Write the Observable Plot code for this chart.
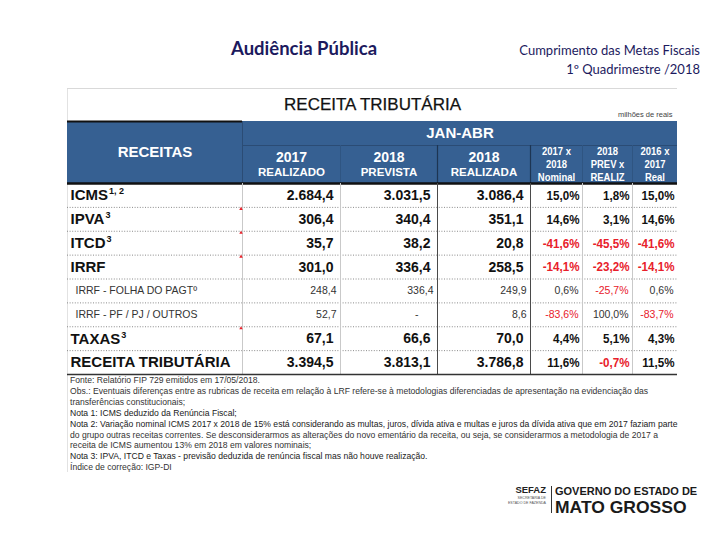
<!DOCTYPE html>
<html lang="pt-BR">
<head>
<meta charset="utf-8">
<script src="https://cdn.jsdelivr.net/npm/d3@7"></script>
<script src="https://cdn.jsdelivr.net/npm/@observablehq/plot@0.6"></script>
<style>
  html, body { margin: 0; padding: 0; background: #fff; }
  #page { position: relative; width: 720px; height: 540px; overflow: hidden; font-family: "Liberation Sans", Arial, sans-serif; }
  #chart { position: absolute; left: 0; top: 0; }
  #ptitle { position: absolute; left: 231px; top: 38px; font: bold 18.5px Lato, "Open Sans", sans-serif; color: #1c1a5e; line-height: 21px; white-space: nowrap; }
  #psub { position: absolute; right: 20px; top: 41px; text-align: right; font: 13px Lato, "Open Sans", sans-serif; color: #1c1a5e; line-height: 19px; white-space: nowrap; }
  #frameLeft { position: absolute; left: 67px; top: 88px; width: 0; height: 384px; border-left: 1px solid #e2e2e2; }
  #notes { position: absolute; left: 70px; top: 375px; font-size: 8.6px; line-height: 10.9px; color: #333; white-space: nowrap; }
  #notes .nota { color: #1a1a1a; }
  #logo { position: absolute; left: 0; top: 0; width: 720px; height: 540px; pointer-events: none; }
  #logo .sefaz { position: absolute; right: 174px; top: 485px; font: bold 9.5px "Liberation Sans", Arial, sans-serif; line-height: 10px; color: #222; }
  #logo .sec { position: absolute; right: 174px; top: 496px; font: 3.6px "Liberation Sans", Arial, sans-serif; color: #555; line-height: 4.6px; text-align: right; }
  #logo .bar { position: absolute; left: 551px; top: 486px; width: 1px; height: 27px; background: #333; }
  #logo .gov { position: absolute; left: 555px; top: 485px; font: bold 11px "Liberation Sans", Arial, sans-serif; line-height: 12.3px; color: #1a1a1a; white-space: nowrap; }
  #logo .mt { position: absolute; left: 555px; top: 497.8px; font: bold 16.5px "Liberation Sans", Arial, sans-serif; line-height: 18.4px; color: #1a1a1a; white-space: nowrap; transform: scaleX(1.06); transform-origin: left center; }
</style>
</head>
<body>
<div id="page">
  <div id="frameLeft"></div>
  <div id="chart"></div>
  <div id="ptitle"></div>
  <div id="psub"></div>
  <div id="notes"></div>
  <div id="logo">
    <div class="sefaz">SEFAZ</div>
    <div class="sec">SECRETARIA DE<br>ESTADO DE FAZENDA</div>
    <div class="bar"></div>
    <div class="gov">GOVERNO DO ESTADO DE</div>
    <div class="mt">MATO GROSSO</div>
  </div>
</div>
<script>
// ---------------- DATA ----------------
const pageTitle = "Audiência Pública";
const pageSubtitle = ["Cumprimento das Metas Fiscais", "1º Quadrimestre /2018"];
const tableTitle = "RECEITA TRIBUTÁRIA";
const unitLabel = "milhões de reais";
const periodLabel = "JAN-ABR";
const firstColumnLabel = "RECEITAS";

const rowLabels = ["ICMS", "IPVA", "ITCD", "IRRF", "IRRF - FOLHA DO PAGTº", "IRRF - PF / PJ / OUTROS", "TAXAS", "RECEITA TRIBUTÁRIA"];
const rowNotes  = ["1, 2", "3", "3", "", "", "", "3", ""];
const rowLevel  = ["main", "main", "main", "main", "sub", "sub", "main", "main"];
const commentRows = [1, 2, 3, 6];

const valueHeadYear  = ["2017", "2018", "2018"];
const valueHeadName  = ["REALIZADO", "PREVISTA", "REALIZADA"];
const ratioHeadLines = [["2017 x", "2018", "Nominal"], ["2018", "PREV x", "REALIZ"], ["2016 x", "2017", "Real"]];

const realizado2017 = [2684.4, 306.4, 35.7, 301.0, 248.4, 52.7, 67.1, 3394.5];
const prevista2018  = [3031.5, 340.4, 38.2, 336.4, 336.4, null, 66.6, 3813.1];
const realizada2018 = [3086.4, 351.1, 20.8, 258.5, 249.9, 8.6, 70.0, 3786.8];
const varNominal    = [15.0, 14.6, -41.6, -14.1, 0.6, -83.6, 4.4, 11.6];
const varPrevReal   = [1.8, 3.1, -45.5, -23.2, -25.7, 100.0, 5.1, -0.7];
const varReal       = [15.0, 14.6, -41.6, -14.1, 0.6, -83.7, 4.3, 11.5];

const footnotes = [
  "Fonte: Relatório FIP 729 emitidos em 17/05/2018.",
  "Obs.: Eventuais diferenças entre as rubricas de receita em relação à LRF refere-se à metodologias diferenciadas de apresentação na evidenciação das",
  "transferências constitucionais;",
  "Nota 1: ICMS deduzido da Renúncia Fiscal;",
  "Nota 2: Variação nominal ICMS 2017 x 2018 de 15% está considerando as multas, juros, dívida ativa e multas e juros da dívida ativa que em 2017 faziam parte",
  "do grupo outras receitas correntes. Se desconsiderarmos as alterações do novo ementário da receita, ou seja, se considerarmos a metodologia de 2017 a",
  "receita de ICMS aumentou 13% em 2018 em valores nominais;",
  "Nota 3: IPVA, ITCD e Taxas - previsão deduzida de renúncia fiscal mas não houve realização.",
  "Índice de correção: IGP-DI"
];

// ---------------- LAYOUT (pixel geometry of the table grid) ----------------
const layout = {
  colEdges: [67, 242, 340, 437, 530, 582, 632, 677],
  bandEdges: [88, 121, 145, 183, 374]  // title | period | sub-header | body
};
const blue = "#366092", ink = "#111", red = "#e8202a", subInk = "#333";
const pctSize = 13.5, ratioHeadSize = 10.5;

const locale = d3.formatLocale({decimal: ",", thousands: ".", grouping: [3], currency: ["R$", ""], minus: "-"});
const fmtNum = locale.format(",.1f");

document.getElementById("ptitle").textContent = pageTitle;
document.getElementById("psub").innerHTML = pageSubtitle.join("<br>");
document.getElementById("notes").innerHTML = footnotes
  .map(s => `<div class="${s.startsWith("Nota") ? "nota" : ""}">${s}</div>`).join("");

// ---------------- table cells ----------------
const series = [realizado2017, prevista2018, realizada2018, varNominal, varPrevReal, varReal];
const isPct = [false, false, false, true, true, true];
const cells = [];
rowLabels.forEach((label, i) => {
  series.forEach((s, j) => {
    const v = s[i];
    cells.push({
      row: i, col: j + 1, v, pct: isPct[j], main: rowLevel[i] === "main",
      text: v == null ? "-" : fmtNum(v) + (isPct[j] ? "%" : "")
    });
  });
});
const rows = rowLabels.map((label, i) => ({label, i, note: rowNotes[i], main: rowLevel[i] === "main"}));

const nCols = layout.colEdges.length - 1;
const xDomain = d3.range(nCols + 1);
const yDomain = [-3, -2, -1, 0, rowLabels.length];
const xs = d3.scaleLinear(xDomain, layout.colEdges);
const spanCenter = (a, b) => xs.invert((xs(a) + xs(b)) / 2);

const colorOf = d => (d.v != null && d.v < 0) ? red : (d.main ? ink : subInk);

const chart = Plot.plot({
  width: 720,
  height: 380,
  marginLeft: layout.colEdges[0],
  marginRight: 720 - layout.colEdges[nCols],
  marginTop: layout.bandEdges[0],
  marginBottom: 6,
  x: {type: "linear", domain: xDomain, range: layout.colEdges, axis: null},
  y: {type: "linear", domain: yDomain, range: layout.bandEdges, axis: null},
  style: {fontFamily: "'Liberation Sans', Arial, sans-serif", background: "transparent", color: ink},
  marks: [
    // title strip
    Plot.ruleY([-3], {x1: 0, x2: nCols, stroke: "#d9d9d9", strokeWidth: 1}),
    Plot.text([tableTitle], {y: -2.5, text: d => d, fontSize: 17, fill: ink, stroke: ink, strokeWidth: 0.25}),
    Plot.text([unitLabel], {x: nCols, y: -2, dy: -7, dx: -5, text: d => d, textAnchor: "end", fontSize: 7.5, fill: "#444"}),

    // header background and lines
    Plot.rect([firstColumnLabel], {x1: 0, x2: nCols, y1: -2, y2: 0, fill: blue}),
    Plot.ruleY([-2], {x1: 0, x2: 1, stroke: "#111", strokeWidth: 2}),
    Plot.ruleX([1], {y1: -2, y2: 0, stroke: "#2b4c75", strokeWidth: 1}),
    Plot.ruleY([-1], {x1: 1, x2: nCols, stroke: "#2b4c75", strokeWidth: 1}),
    Plot.ruleX([2, 5, 6], {y1: -1, y2: 0, stroke: "#2f5582", strokeWidth: 1}),
    Plot.ruleX([3, 4], {y1: -1, y2: 0, stroke: "#1d3553", strokeWidth: 1.2}),

    // header texts
    Plot.text([firstColumnLabel], {x: 0.5, y: -1, dy: 7, text: d => d, fill: "white", fontWeight: "bold", fontSize: 15}),
    Plot.text([periodLabel], {x: spanCenter(1, nCols), y: -1.5, text: d => d, fill: "white", fontWeight: "bold", fontSize: 15}),
    Plot.text(valueHeadYear, {x: (d, j) => j + 1.5, y: -0.5, dy: -7, text: d => d, fill: "white", fontWeight: "bold", fontSize: 14}),
    Plot.text(valueHeadName, {x: (d, j) => j + 1.5, y: -0.5, dy: 8, text: d => d, fill: "white", fontWeight: "bold", fontSize: 11.5}),
    Plot.text(ratioHeadLines, {x: (d, j) => j + 4.5, y: -0.5, dy: -1, text: d => d.join("\n"), lineHeight: 1.25, fill: "white", fontWeight: "bold", fontSize: ratioHeadSize}),

    Plot.ruleY([0], {x1: 0, x2: nCols, stroke: "#111", strokeWidth: 2.5}),

    // body grid
    Plot.ruleY(d3.range(1, rowLabels.length), {x1: 0, x2: nCols, stroke: "#8a8a8a", strokeWidth: 1, strokeDasharray: "1,1.6"}),
    Plot.ruleX([1, 2, 5, 6], {y1: 0, y2: rowLabels.length, stroke: "#c9c9c9", strokeWidth: 1}),
    Plot.ruleX([3, 4], {y1: 0, y2: rowLabels.length, stroke: "#4a4a4a", strokeWidth: 1}),
    Plot.ruleY([rowLabels.length], {x1: 0, x2: nCols, stroke: "#333", strokeWidth: 1.3}),
    Plot.dot(commentRows, {x: 1, y: d => d, dx: -1.5, dy: 1.5, r: 1.3, fill: red, stroke: null, symbol: "triangle"}),

    // row labels
    Plot.text(rows.filter(d => d.main), {x: 0, y: d => d.i + 0.5, dx: 3, text: "label", textAnchor: "start", fontWeight: "bold", fontSize: 15, fill: ink}),
    Plot.text(rows.filter(d => !d.main), {x: 0, y: d => d.i + 0.5, dx: 8, text: "label", textAnchor: "start", fontSize: 10.5, fill: subInk}),

    // values
    Plot.text(cells.filter(d => d.main && !d.pct), {x: d => d.col + 1, y: d => d.row + 0.5, dx: -7, text: "text", textAnchor: "end", fontWeight: "bold", fontSize: 14, fill: colorOf}),
    Plot.text(cells.filter(d => d.main && d.pct), {x: d => d.col + 1, y: d => d.row + 0.5, dx: -3, text: "text", textAnchor: "end", fontWeight: "bold", fontSize: pctSize, fill: colorOf}),
    Plot.text(cells.filter(d => !d.main && d.v != null), {x: d => d.col + 1, y: d => d.row + 0.5, dx: -4, text: "text", textAnchor: "end", fontSize: 10.5, fill: colorOf}),
    Plot.text(cells.filter(d => !d.main && d.v == null), {x: d => d.col + 1, y: d => d.row + 0.5, dx: -19, text: "text", textAnchor: "end", fontSize: 10.5, fill: colorOf})
  ]
});
document.getElementById("chart").appendChild(chart);

// superscript note markers after main row labels
const noteByLabel = new Map(rows.filter(d => d.main && d.note).map(d => [d.label, d.note]));
chart.querySelectorAll("text").forEach(t => {
  if (t.querySelector("tspan")) return;
  const note = noteByLabel.get(t.textContent);
  if (note) {
    const ts = document.createElementNS("http://www.w3.org/2000/svg", "tspan");
    ts.setAttribute("dy", "-6");
    ts.setAttribute("dx", "1");
    ts.setAttribute("font-size", "9");
    ts.textContent = note;
    t.appendChild(ts);
  }
});

// condensed (narrow) look for bold percentages and the ratio column headers
const condense = (el, k) => {
  const w = el.getComputedTextLength();
  if (w > 0) { el.setAttribute("textLength", (w * k).toFixed(2)); el.setAttribute("lengthAdjust", "spacingAndGlyphs"); }
};
chart.querySelectorAll("text").forEach(t => {
  const g = t.closest("g[font-weight]");
  const bold = g && g.getAttribute("font-weight") === "bold";
  const tspans = t.querySelectorAll("tspan");
  if (bold && tspans.length === 3) tspans.forEach(s => condense(s, 0.9));
  else if (bold && !tspans.length && t.textContent.endsWith("%")) condense(t, 0.86);
});
</script>
</body>
</html>
